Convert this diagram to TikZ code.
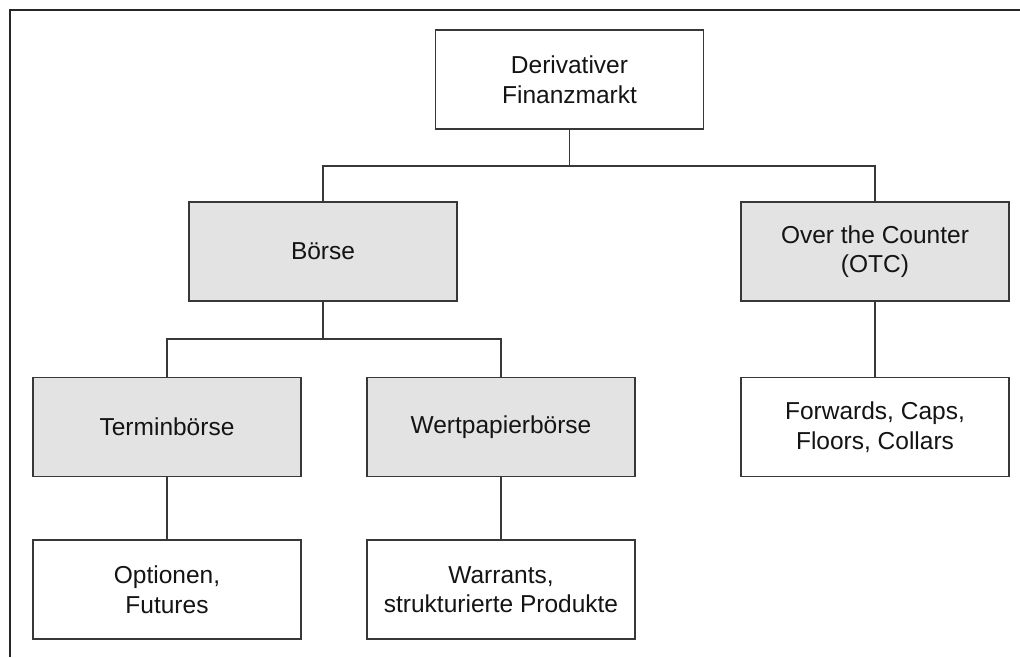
\documentclass[tikz,border=0pt]{standalone}
\usepackage{fontspec}
\setmainfont{Liberation Sans}
\begin{document}
\begin{tikzpicture}[x=1pt,y=-1pt,
  box/.style={draw=black!78,line width=1.2pt,minimum width=268pt,minimum height=99pt,
    inner sep=0pt,align=center,text=black!92,
    font=\fontsize{24.5}{29.5}\selectfont},
  plainbox/.style={box,fill=white},
  greybox/.style={box,fill=black!11},
  link/.style={draw=black!78,line width=1.2pt}]
\useasboundingbox (0,0) rectangle (1020,657);
% open frame: left and top edges only
\draw[line width=2pt,black!85] (10,657) -- (10,10) -- (1020,10);

\node[plainbox] (root)    at (569.5,79.5) {Derivativer\\Finanzmarkt};
\node[greybox]  (boerse)  at (323,251.5)  {Börse};
\node[greybox]  (otc)     at (875,251.5)  {Over the Counter\\(OTC)};
\node[greybox]  (termin)  at (167,427)    {Terminbörse};
\node[greybox]  (wert)    at (501,427)    {Wertpapierbörse};
\node[plainbox] (fwd)     at (875,427)    {Forwards, Caps,\\Floors, Collars};
\node[plainbox] (opt)     at (167,589.5)  {Optionen,\\Futures};
\node[plainbox] (warr)    at (501,589.5)  {Warrants,\\strukturierte Produkte};

\coordinate (j1) at (569.5,166);
\coordinate (j2) at (323,339);

\draw[link] (root.south) -- (j1);
\draw[link] (boerse.north) |- (j1) -| (otc.north);
\draw[link] (boerse.south) -- (j2);
\draw[link] (termin.north) |- (j2) -| (wert.north);
\draw[link] (otc.south) -- (fwd.north);
\draw[link] (termin.south) -- (opt.north);
\draw[link] (wert.south) -- (warr.north);
\end{tikzpicture}
\end{document}
